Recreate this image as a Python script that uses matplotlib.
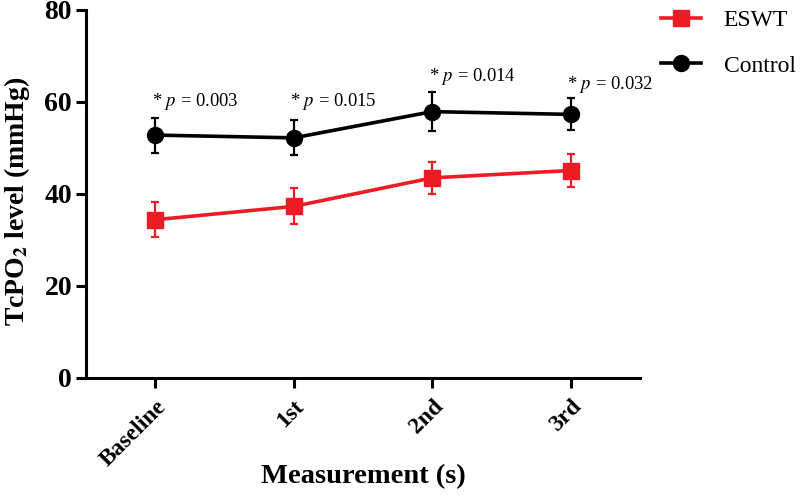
import matplotlib.pyplot as plt
from matplotlib.lines import Line2D

plt.rcParams['font.family'] = 'Liberation Serif'
plt.rcParams['mathtext.fontset'] = 'stix'

##### dados #####
etapas = ['Baseline', '1st', '2nd', '3rd']
eswt = [34.4, 37.3, 43.5, 45.1]
eswt_err = [3.8, 3.9, 3.5, 3.6]
controle = [52.8, 52.2, 57.9, 57.3]
controle_err = [3.8, 3.8, 4.3, 3.5]
p_textos = ['0.003', '0.015', '0.014', '0.032']
p_alturas = [60, 60, 65.6, 63.9]

vermelho = '#ED1C24'
x = list(range(len(etapas)))

fig = plt.figure(figsize=(8, 4.98), dpi=100)
ax = fig.add_axes([0.1075, 0.241, 0.6925, 0.739])

ax.errorbar(x, eswt, yerr=eswt_err, color=vermelho, marker='s', markersize=11,
            linewidth=2.6, elinewidth=1.6, capsize=3.2, capthick=1.6,
            clip_on=False, zorder=3)
ax.errorbar(x, controle, yerr=controle_err, color='black', marker='o', markersize=11.5,
            linewidth=2.6, elinewidth=1.6, capsize=3.2, capthick=1.6,
            clip_on=False, zorder=3)

# anotacoes de p
for i, txt in enumerate(p_textos):
    ax.text(i - 0.025, p_alturas[i], r'* $p$ = ' + txt, fontsize=13.4,
            ha='left', va='center')

ax.set_xlim(-0.5, 3.5)
ax.set_ylim(0, 80)
ax.set_yticks([0, 20, 40, 60, 80])
ax.set_xticks(x)
ax.set_xticklabels(etapas, rotation=45, ha='right', rotation_mode='anchor',
                   fontsize=17, fontweight='bold')
for lab in ax.get_yticklabels():
    lab.set_fontweight('bold')
    lab.set_fontsize(20)

for lado in ['top', 'right']:
    ax.spines[lado].set_visible(False)
for lado in ['left', 'bottom']:
    ax.spines[lado].set_linewidth(2.2)
ax.tick_params(axis='both', width=2.2, length=7, direction='out')
ax.tick_params(axis='y', pad=3)
ax.tick_params(axis='x', pad=6)

ax.set_ylabel(r'TcPO$_\mathbf{2}$ level (mmHg)', fontsize=20, fontweight='bold')
ax.yaxis.set_label_coords(-0.097, 0.48)
ax.set_xlabel('Measurement (s)', fontsize=20.5, fontweight='bold')
ax.xaxis.set_label_coords(0.5, -0.235)

# legenda sem barras de erro
handles = [Line2D([], [], color=vermelho, marker='s', markersize=11, linewidth=2.6),
           Line2D([], [], color='black', marker='o', markersize=11.5, linewidth=2.6)]
ax.legend(handles, ['ESWT', 'Control'], loc='upper left', bbox_to_anchor=(1.038, 1.0),
          frameon=False, fontsize=17, handlelength=1.7, labelspacing=1.0,
          handletextpad=0.95, borderpad=0, borderaxespad=0)

plt.savefig('out.png', dpi=100)
